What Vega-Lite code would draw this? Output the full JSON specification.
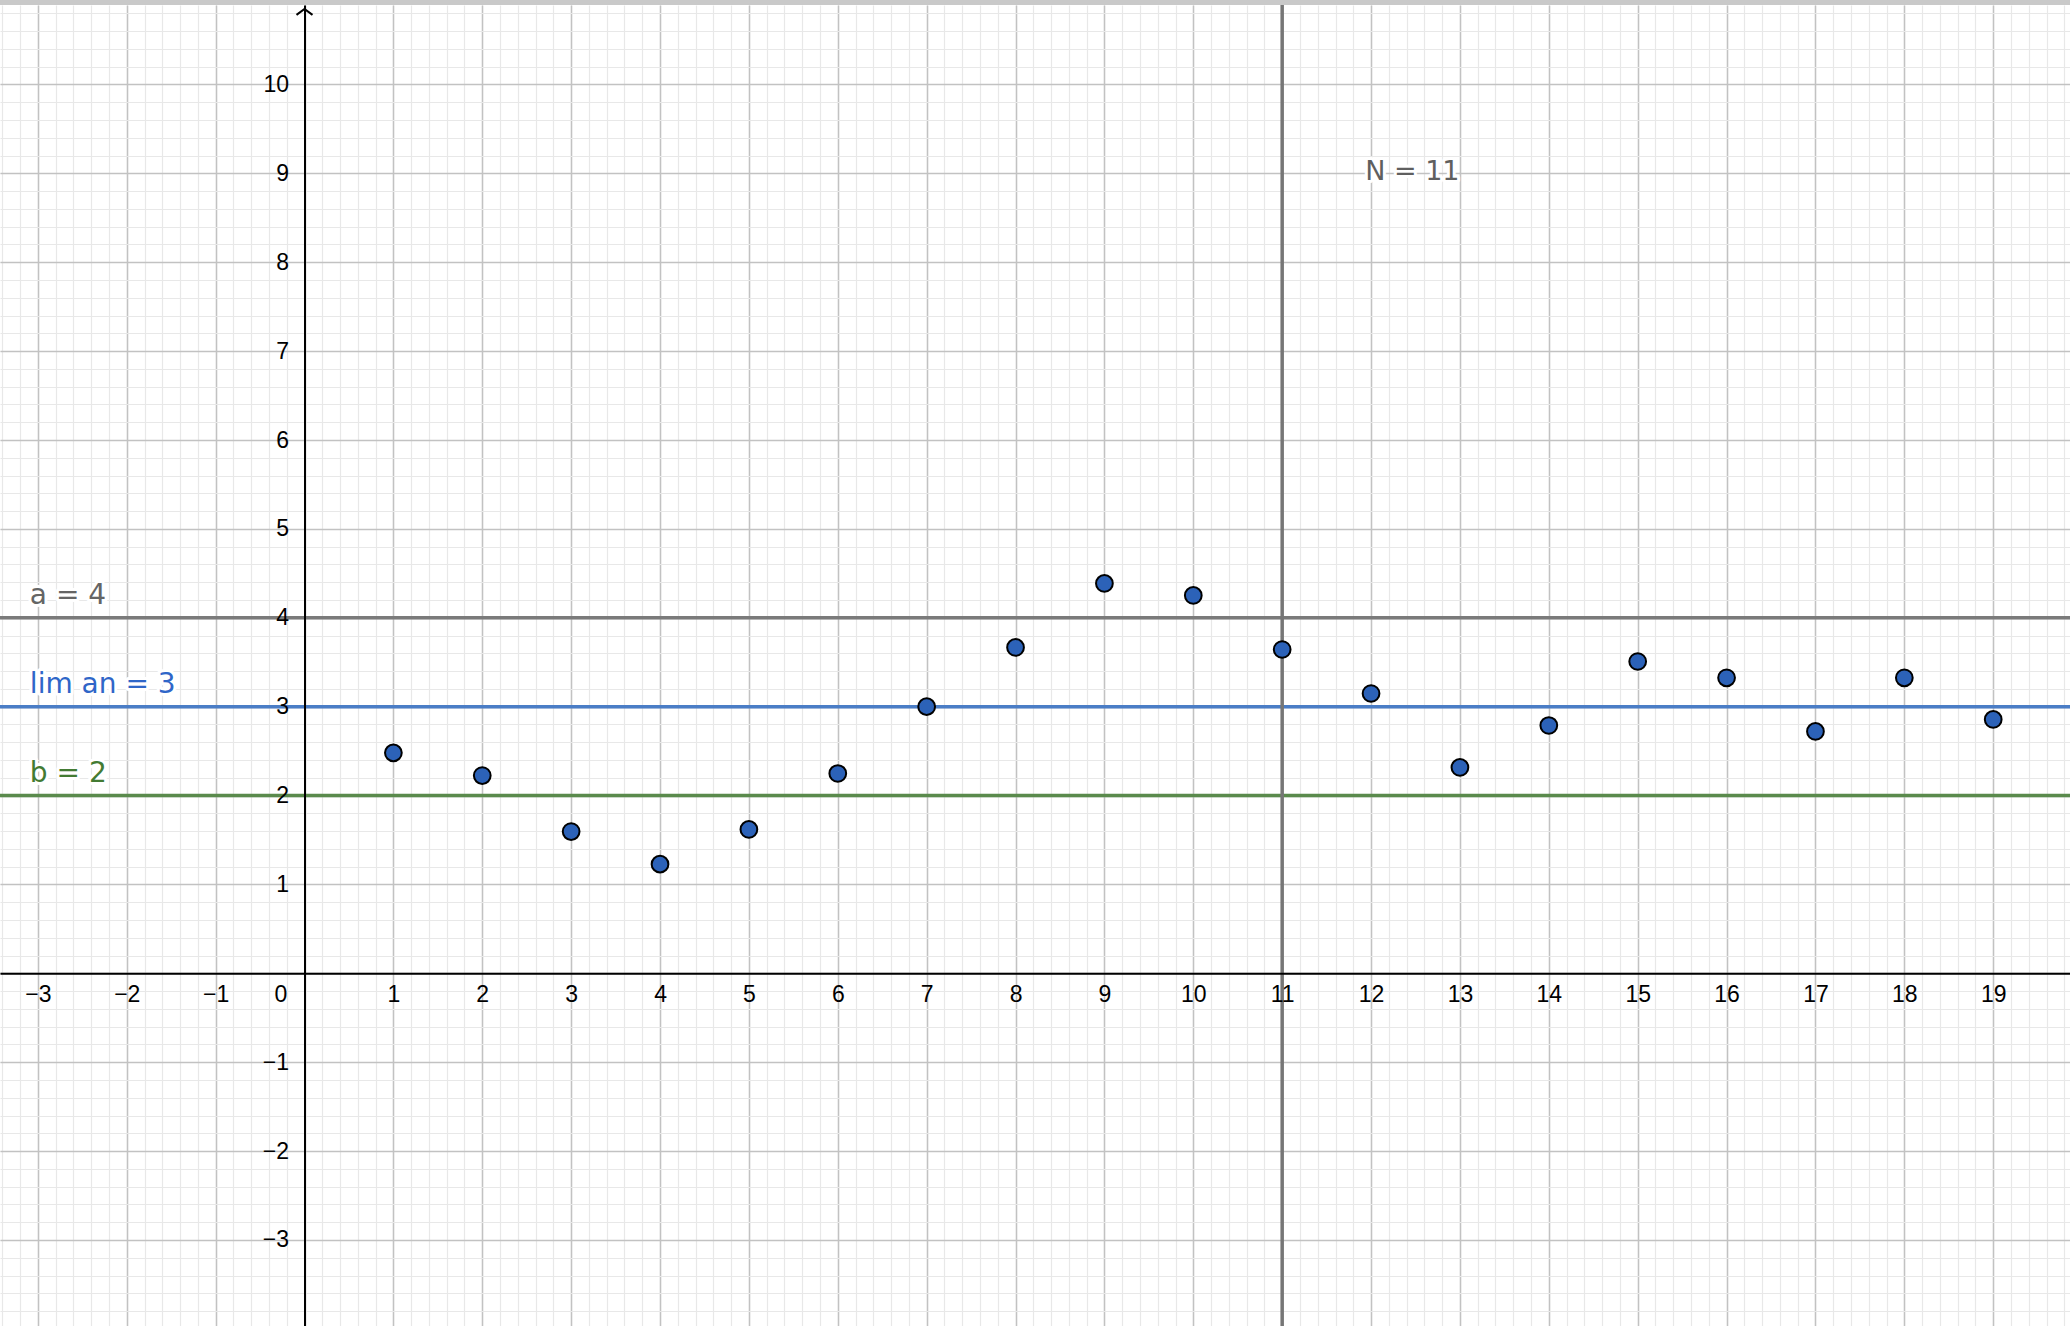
{
  "$schema": "https://vega.github.io/schema/vega-lite/v6.json",
  "width": 2070,
  "height": 1321,
  "autosize": {"type": "none"},
  "padding": {"top": 5, "left": 0, "right": 0, "bottom": 0},
  "background": "#c9c9c9",
  "config": {"view": {"fill": "white", "stroke": null}},
  "datasets": {
    "seq": [
      {"n": 1, "an": 2.48}, {"n": 2, "an": 2.225}, {"n": 3, "an": 1.595}, {"n": 4, "an": 1.228},
      {"n": 5, "an": 1.618}, {"n": 6, "an": 2.248}, {"n": 7, "an": 3.0}, {"n": 8, "an": 3.666},
      {"n": 9, "an": 4.386}, {"n": 10, "an": 4.251}, {"n": 11, "an": 3.643}, {"n": 12, "an": 3.148},
      {"n": 13, "an": 2.316}, {"n": 14, "an": 2.788}, {"n": 15, "an": 3.508}, {"n": 16, "an": 3.325},
      {"n": 17, "an": 2.721}, {"n": 18, "an": 3.325}, {"n": 19, "an": 2.856}
    ],
    "levels": [
      {"label": "a = 4", "value": 4},
      {"label": "lim an = 3", "value": 3},
      {"label": "b = 2", "value": 2}
    ],
    "bound": [{"label": "N = 11", "n": 11}]
  },
  "layer": [
    {
      "data": {"name": "levels"},
      "mark": {"type": "rule", "strokeWidth": 3.5},
      "encoding": {
        "y": {"field": "value", "type": "quantitative",
              "scale": {"domain": [-3.968, 10.894], "nice": false, "zero": false},
              "axis": {"orient": "left", "grid": true, "tickCount": 75, "gridColor": "#e8e8e8", "gridWidth": 1.2,
                       "labels": false, "ticks": false, "domain": false, "title": null}},
        "color": {"field": "label", "type": "nominal",
                  "scale": {"domain": ["a = 4", "lim an = 3", "b = 2"], "range": ["#7a7a7a", "#4a7dc6", "#5a8a4c"]},
                  "legend": null}
      }
    },
    {
      "data": {"name": "bound"},
      "mark": {"type": "rule", "strokeWidth": 3.5, "color": "#767676"},
      "encoding": {
        "x": {"field": "n", "type": "quantitative",
              "scale": {"domain": [-3.426, 19.864], "nice": false, "zero": false},
              "axis": {"orient": "bottom", "grid": true, "tickCount": 116, "gridColor": "#e8e8e8", "gridWidth": 1.2,
                       "labels": false, "ticks": false, "domain": false, "title": null}}
      }
    },
    {
      "data": {"name": "seq"},
      "mark": {"type": "circle", "size": 280, "color": "#2c62b8", "stroke": "#000000", "strokeWidth": 2, "opacity": 1},
      "encoding": {
        "x": {"field": "n", "type": "quantitative",
              "scale": {"domain": [-3.426, 19.864], "nice": false, "zero": false},
              "axis": {"orient": "bottom", "grid": true, "tickCount": 23, "gridColor": "#c2c2c2", "gridWidth": 1.5,
                       "labels": false, "ticks": false, "domain": false, "title": null}},
        "y": {"field": "an", "type": "quantitative",
              "scale": {"domain": [-3.968, 10.894], "nice": false, "zero": false},
              "axis": {"orient": "left", "grid": true, "tickCount": 15, "gridColor": "#c2c2c2", "gridWidth": 1.5,
                       "labels": false, "ticks": false, "domain": false, "title": null}}
      }
    },
    {
      "data": {"name": "bound"},
      "mark": {"type": "text", "align": "left", "baseline": "alphabetic", "dx": 83, "dy": 7,
               "font": "DejaVu Sans", "fontSize": 27, "fill": "white", "stroke": "white", "strokeWidth": 6, "strokeJoin": "round"},
      "encoding": {
        "x": {"field": "n", "type": "quantitative",
              "scale": {"domain": [-3.426, 19.864], "nice": false, "zero": false},
              "axis": {"orient": "bottom", "offset": {"expr": "-height*3.968/14.862"},
                       "values": [-3, -2, -1, 0, 1, 2, 3, 4, 5, 6, 7, 8, 9, 10, 11, 12, 13, 14, 15, 16, 17, 18, 19],
                       "grid": false, "ticks": false, "tickSize": 0, "domain": true, "domainColor": "#000000", "domainWidth": 2,
                       "labelFont": "Liberation Sans", "labelFontSize": 23, "labelColor": "#000000", "labelPadding": 10,
                       "labelOffset": {"condition": {"test": "datum.value === 0", "value": -24}, "value": 0},
                       "labelFlush": false, "labelOverlap": false, "zindex": 1, "title": null}},
        "y": {"datum": 9, "type": "quantitative", "axis": null},
        "text": {"field": "label"}
      }
    },
    {
      "data": {"name": "bound"},
      "mark": {"type": "text", "align": "left", "baseline": "alphabetic", "dx": 83, "dy": 7,
               "font": "DejaVu Sans", "fontSize": 27, "color": "#5f5f5f"},
      "encoding": {
        "x": {"field": "n", "type": "quantitative", "axis": null},
        "y": {"datum": 9, "type": "quantitative", "axis": null},
        "text": {"field": "label"}
      }
    },
    {
      "data": {"name": "levels"},
      "mark": {"type": "text", "align": "left", "baseline": "alphabetic", "dy": -14,
               "font": "DejaVu Sans", "fontSize": 28, "fill": "white", "stroke": "white", "strokeWidth": 6, "strokeJoin": "round"},
      "encoding": {
        "x": {"datum": -3.09, "type": "quantitative", "axis": null},
        "y": {"field": "value", "type": "quantitative",
              "scale": {"domain": [-3.968, 10.894], "nice": false, "zero": false},
              "axis": {"orient": "left", "offset": {"expr": "-width*3.426/23.29"},
                       "values": [-3, -2, -1, 1, 2, 3, 4, 5, 6, 7, 8, 9, 10],
                       "grid": false, "ticks": false, "tickSize": 0, "domain": true, "domainColor": "#000000", "domainWidth": 2,
                       "labelFont": "Liberation Sans", "labelFontSize": 23, "labelColor": "#000000", "labelPadding": 16,
                       "labelFlush": false, "labelOverlap": false, "zindex": 1, "title": null}},
        "text": {"field": "label"}
      }
    },
    {
      "data": {"name": "levels"},
      "mark": {"type": "text", "align": "left", "baseline": "alphabetic", "dy": -14,
               "font": "DejaVu Sans", "fontSize": 28},
      "encoding": {
        "x": {"datum": -3.09, "type": "quantitative", "axis": null},
        "y": {"field": "value", "type": "quantitative", "axis": null},
        "text": {"field": "label"},
        "color": {"field": "label", "type": "nominal",
                  "scale": {"domain": ["a = 4", "lim an = 3", "b = 2"], "range": ["#656565", "#2f66c8", "#437b33"]},
                  "legend": null}
      }
    },
    {
      "data": {"values": [{}]},
      "mark": {"type": "point", "shape": "M-1,0.75L0,0L1,0.75", "filled": false, "stroke": "#000000", "strokeWidth": 2, "size": 256, "opacity": 1},
      "encoding": {
        "x": {"datum": 0, "type": "quantitative", "axis": null},
        "y": {"datum": 10.85, "type": "quantitative", "axis": null}
      }
    }
  ],
  "resolve": {"axis": {"x": "independent", "y": "independent"}, "scale": {"color": "independent"}}
}
